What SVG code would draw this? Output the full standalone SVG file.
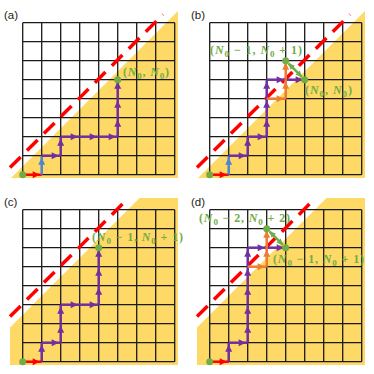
<svg xmlns="http://www.w3.org/2000/svg" xmlns:xlink="http://www.w3.org/1999/xlink" width="374" height="374" viewBox="0 0 374 374">
<style>
.grid{fill:none;stroke:#1a1a1a;stroke-width:1.3}
.yel{fill:#FFD966;stroke:none}
.dash{stroke:#FF0000;stroke-width:3.5;stroke-dasharray:15 9;fill:none}
.r{stroke:#FF0000;stroke-width:2.5;marker-end:url(#mR)}
.b{stroke:#4E86D0;stroke-width:2.5;marker-end:url(#mB)}
.p{stroke:#7030A0;stroke-width:2.5;marker-end:url(#mP)}
.o{stroke:#ED7D31;stroke-width:2.5;marker-end:url(#mO)}
.g{stroke:#70AD47;stroke-width:2.5;marker-start:url(#mG);marker-end:url(#mG)}
.dot{fill:#70AD47}
.lab{font-family:"Liberation Serif","DejaVu Serif",serif;font-weight:bold;font-size:12px;fill:#70AD47}
.it{font-style:italic}
.pl{font-family:"Liberation Sans",Arial,sans-serif;font-size:11.5px;fill:#222}
</style>
<defs>
<marker id="mR" markerUnits="userSpaceOnUse" markerWidth="10" markerHeight="8" refX="9" refY="3.5" orient="auto" overflow="visible"><path d="M0,0 L7,3.5 L0,7 z" fill="#FF0000"/></marker>
<marker id="mB" markerUnits="userSpaceOnUse" markerWidth="10" markerHeight="8" refX="9" refY="3.5" orient="auto" overflow="visible"><path d="M0,0 L7,3.5 L0,7 z" fill="#4E86D0"/></marker>
<marker id="mP" markerUnits="userSpaceOnUse" markerWidth="10" markerHeight="8" refX="9" refY="3.5" orient="auto" overflow="visible"><path d="M0,0 L7,3.5 L0,7 z" fill="#7030A0"/></marker>
<marker id="mO" markerUnits="userSpaceOnUse" markerWidth="10" markerHeight="8" refX="9" refY="3.5" orient="auto" overflow="visible"><path d="M0,0 L7,3.5 L0,7 z" fill="#ED7D31"/></marker>
<marker id="mG" markerUnits="userSpaceOnUse" markerWidth="10" markerHeight="8" refX="6" refY="3" orient="auto-start-reverse" overflow="visible"><path d="M0,0 L6,3 L0,6 z" fill="#70AD47"/></marker>
<path id="gridpath" class="grid" d="M22.7,22.7V174.7M41.7,22.7V174.7M60.7,22.7V174.7M79.7,22.7V174.7M98.7,22.7V174.7M117.7,22.7V174.7M136.7,22.7V174.7M155.7,22.7V174.7M174.7,22.7V174.7M22.7,22.7H174.7M22.7,41.7H174.7M22.7,60.7H174.7M22.7,79.7H174.7M22.7,98.7H174.7M22.7,117.7H174.7M22.7,136.7H174.7M22.7,155.7H174.7M22.7,174.7H174.7"/>
</defs>

<!-- Panel (a) -->
<g id="panel-a">
<text class="pl" x="4" y="19">(a)</text>
<polygon class="yel" points="11,178 178,11 178,178"/>
<use xlink:href="#gridpath"/>
<line class="dash" x1="10" y1="167.5" x2="163" y2="14.5"/>
<g id="a-connectors">
<line class="r" x1="22.7" y1="174.7" x2="41.7" y2="174.7"/>
<line class="b" x1="41.7" y1="174.7" x2="41.7" y2="155.7"/>
<line class="p" x1="41.7" y1="155.7" x2="60.7" y2="155.7"/>
<line class="p" x1="60.7" y1="155.7" x2="60.7" y2="136.7"/>
<line class="p" x1="60.7" y1="136.7" x2="79.7" y2="136.7"/>
<line class="p" x1="79.7" y1="136.7" x2="98.7" y2="136.7"/>
<line class="p" x1="98.7" y1="136.7" x2="117.7" y2="136.7"/>
<line class="p" x1="117.7" y1="136.7" x2="117.7" y2="117.7"/>
<line class="p" x1="117.7" y1="117.7" x2="117.7" y2="98.7"/>
<line class="p" x1="117.7" y1="98.7" x2="117.7" y2="79.7"/>
</g>
<g id="a-start"><circle class="dot" cx="22.7" cy="174.7" r="3.5"/></g>
<g id="a-end"><circle class="dot" cx="117.7" cy="79.7" r="3.5"/>
<text class="lab" x="123" y="76" textLength="46" lengthAdjust="spacing">(<tspan class="it">N</tspan><tspan dy="2.5" font-size="9">0</tspan><tspan dy="-2.5">, </tspan><tspan class="it">N</tspan><tspan dy="2.5" font-size="9">0</tspan><tspan dy="-2.5">)</tspan></text></g>
</g>

<!-- Panel (b) -->
<g id="panel-b" transform="translate(187,0)">
<text class="pl" x="4" y="19">(b)</text>
<polygon class="yel" points="11,178 178,11 178,178"/>
<use xlink:href="#gridpath"/>
<line class="dash" x1="10" y1="167.5" x2="163" y2="14.5"/>
<g id="b-connectors">
<line class="r" x1="22.7" y1="174.7" x2="41.7" y2="174.7"/>
<line class="b" x1="41.7" y1="174.7" x2="41.7" y2="155.7"/>
<line class="p" x1="41.7" y1="155.7" x2="60.7" y2="155.7"/>
<line class="p" x1="60.7" y1="155.7" x2="60.7" y2="136.7"/>
<line class="p" x1="60.7" y1="136.7" x2="79.7" y2="136.7"/>
<line class="p" x1="79.7" y1="136.7" x2="79.7" y2="117.7"/>
<line class="p" x1="79.7" y1="117.7" x2="79.7" y2="98.7"/>
<line class="p" x1="79.7" y1="98.7" x2="79.7" y2="79.7"/>
<line class="p" x1="79.7" y1="79.7" x2="98.7" y2="79.7"/>
<line class="p" x1="98.7" y1="79.7" x2="117.7" y2="79.7"/>
<line class="o" x1="79.7" y1="98.7" x2="98.7" y2="98.7"/>
<line class="o" x1="98.7" y1="98.7" x2="98.7" y2="79.7"/>
<line class="o" x1="98.7" y1="79.7" x2="98.7" y2="60.7"/>
<line class="g" x1="101.5" y1="63.5" x2="114.9" y2="76.9"/>
</g>
<g id="b-start"><circle class="dot" cx="22.7" cy="174.7" r="3.5"/></g>
<g id="b-refl"><circle class="dot" cx="98.7" cy="60.7" r="3.5"/>
<text class="lab" x="23" y="54" textLength="92" lengthAdjust="spacing">(<tspan class="it">N</tspan><tspan dy="2.5" font-size="9">0</tspan><tspan dy="-2.5"> − 1, </tspan><tspan class="it">N</tspan><tspan dy="2.5" font-size="9">0</tspan><tspan dy="-2.5"> + 1)</tspan></text></g>
<g id="b-end"><circle class="dot" cx="117.7" cy="79.7" r="3.5"/>
<text class="lab" x="118" y="94" textLength="47" lengthAdjust="spacing">(<tspan class="it">N</tspan><tspan dy="2.5" font-size="9">0</tspan><tspan dy="-2.5">, </tspan><tspan class="it">N</tspan><tspan dy="2.5" font-size="9">0</tspan><tspan dy="-2.5">)</tspan></text></g>
</g>

<!-- Panel (c) -->
<g id="panel-c" transform="translate(0,187)">
<text class="pl" x="4" y="19">(c)</text>
<polygon class="yel" points="10,140.5 139.5,11 178,11 178,178 10,178"/>
<use xlink:href="#gridpath"/>
<line class="dash" x1="10" y1="129.5" x2="126" y2="13.5"/>
<g id="c-connectors">
<line class="r" x1="22.7" y1="174.7" x2="41.7" y2="174.7"/>
<line class="p" x1="41.7" y1="174.7" x2="41.7" y2="155.7"/>
<line class="p" x1="41.7" y1="155.7" x2="60.7" y2="155.7"/>
<line class="p" x1="60.7" y1="155.7" x2="60.7" y2="136.7"/>
<line class="p" x1="60.7" y1="136.7" x2="60.7" y2="117.7"/>
<line class="p" x1="60.7" y1="117.7" x2="79.7" y2="117.7"/>
<line class="p" x1="79.7" y1="117.7" x2="98.7" y2="117.7"/>
<line class="p" x1="98.7" y1="117.7" x2="98.7" y2="98.7"/>
<line class="p" x1="98.7" y1="98.7" x2="98.7" y2="79.7"/>
<line class="p" x1="98.7" y1="79.7" x2="98.7" y2="60.7"/>
</g>
<g id="c-start"><circle class="dot" cx="22.7" cy="174.7" r="3.5"/></g>
<g id="c-end"><circle class="dot" cx="98.7" cy="60.7" r="3.5"/>
<text class="lab" x="92" y="54" textLength="91" lengthAdjust="spacing">(<tspan class="it">N</tspan><tspan dy="2.5" font-size="9">0</tspan><tspan dy="-2.5"> − 1, </tspan><tspan class="it">N</tspan><tspan dy="2.5" font-size="9">0</tspan><tspan dy="-2.5"> + 1)</tspan></text></g>
</g>

<!-- Panel (d) -->
<g id="panel-d" transform="translate(187,187)">
<text class="pl" x="4" y="19">(d)</text>
<polygon class="yel" points="10,140.5 139.5,11 178,11 178,178 10,178"/>
<use xlink:href="#gridpath"/>
<line class="dash" x1="10" y1="129.5" x2="126" y2="13.5"/>
<g id="d-connectors">
<line class="r" x1="22.7" y1="174.7" x2="41.7" y2="174.7"/>
<line class="p" x1="41.7" y1="174.7" x2="41.7" y2="155.7"/>
<line class="p" x1="41.7" y1="155.7" x2="60.7" y2="155.7"/>
<line class="p" x1="60.7" y1="155.7" x2="60.7" y2="136.7"/>
<line class="p" x1="60.7" y1="136.7" x2="60.7" y2="117.7"/>
<line class="p" x1="60.7" y1="117.7" x2="60.7" y2="98.7"/>
<line class="p" x1="60.7" y1="98.7" x2="60.7" y2="79.7"/>
<line class="p" x1="60.7" y1="79.7" x2="60.7" y2="60.7"/>
<line class="p" x1="60.7" y1="60.7" x2="79.7" y2="60.7"/>
<line class="p" x1="79.7" y1="60.7" x2="98.7" y2="60.7"/>
<line class="o" x1="60.7" y1="79.7" x2="79.7" y2="79.7"/>
<line class="o" x1="79.7" y1="79.7" x2="79.7" y2="60.7"/>
<line class="o" x1="79.7" y1="60.7" x2="79.7" y2="41.7"/>
<line class="g" x1="82.5" y1="44.5" x2="95.9" y2="57.9"/>
</g>
<g id="d-start"><circle class="dot" cx="22.7" cy="174.7" r="3.5"/></g>
<g id="d-refl"><circle class="dot" cx="79.7" cy="41.7" r="3.5"/>
<text class="lab" x="12" y="35" textLength="91" lengthAdjust="spacing">(<tspan class="it">N</tspan><tspan dy="2.5" font-size="9">0</tspan><tspan dy="-2.5"> − 2, </tspan><tspan class="it">N</tspan><tspan dy="2.5" font-size="9">0</tspan><tspan dy="-2.5"> + 2)</tspan></text></g>
<g id="d-end"><circle class="dot" cx="98.7" cy="60.7" r="3.5"/>
<text class="lab" x="86" y="76" textLength="91" lengthAdjust="spacing">(<tspan class="it">N</tspan><tspan dy="2.5" font-size="9">0</tspan><tspan dy="-2.5"> − 1, </tspan><tspan class="it">N</tspan><tspan dy="2.5" font-size="9">0</tspan><tspan dy="-2.5"> + 1)</tspan></text></g>
</g>
</svg>
